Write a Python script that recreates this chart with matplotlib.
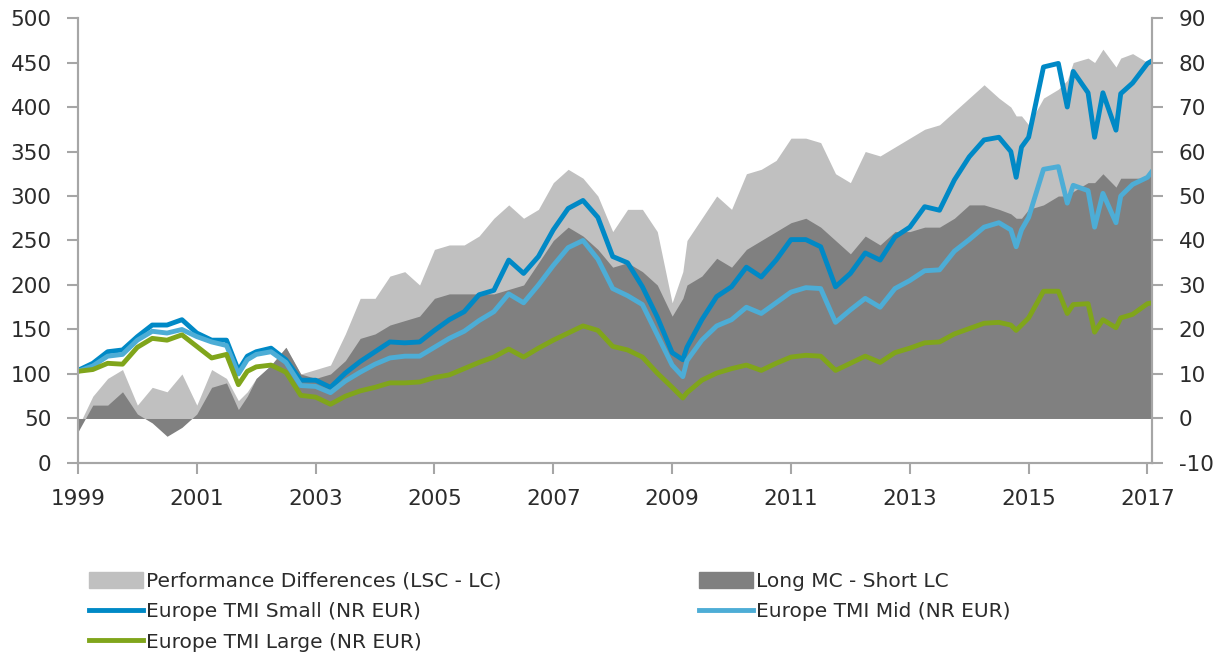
import matplotlib
matplotlib.use("Agg")
import matplotlib.pyplot as plt
from matplotlib.patches import Patch
from matplotlib.lines import Line2D

plt.rcParams['font.family'] = ['DejaVu Sans']
plt.rcParams['axes.unicode_minus'] = False

# reading points (decimal years), roughly quarterly plus sharp moves
years = [1999.0, 1999.25, 1999.5, 1999.75,
         2000.0, 2000.25, 2000.5, 2000.75,
         2001.0, 2001.25, 2001.5, 2001.7, 2001.85,
         2002.0, 2002.25, 2002.5, 2002.75,
         2003.0, 2003.25, 2003.5, 2003.75,
         2004.0, 2004.25, 2004.5, 2004.75,
         2005.0, 2005.25, 2005.5, 2005.75,
         2006.0, 2006.25, 2006.5, 2006.75,
         2007.0, 2007.25, 2007.5, 2007.75,
         2008.0, 2008.25, 2008.5, 2008.75,
         2009.0, 2009.18, 2009.25, 2009.5, 2009.75,
         2010.0, 2010.25, 2010.5, 2010.75,
         2011.0, 2011.25, 2011.5, 2011.75,
         2012.0, 2012.25, 2012.5, 2012.75,
         2013.0, 2013.25, 2013.5, 2013.75,
         2014.0, 2014.25, 2014.5, 2014.7, 2014.79, 2014.88,
         2015.0, 2015.25, 2015.5, 2015.65, 2015.75,
         2016.0, 2016.11, 2016.25, 2016.47, 2016.55, 2016.75,
         2017.0, 2017.08]
tick_years = list(range(1999, 2018, 2))

# left axis (index level)
small = [104, 112, 125, 127,
         142, 155, 155, 161,
         146, 138, 138, 104, 120,
         125, 129, 116, 93,
         93, 85, 101, 114,
         125, 136, 135, 136,
         149, 161, 170, 189,
         194, 228, 213, 232,
         262, 286, 295, 276,
         232, 225, 198, 164,
         124, 116, 130, 161, 187,
         198, 220, 209, 228,
         251, 251, 243, 198,
         213, 236, 228, 254,
         265, 288, 284, 318,
         344, 363, 366, 350, 321, 355,
         366, 445, 449, 400, 440,
         416, 366, 416, 374, 415, 427,
         449, 452]
mid = [103, 109, 120, 122,
       138, 148, 146, 150,
       142, 136, 132, 100, 116,
       122, 125, 113, 87,
       86, 79, 92, 102,
       111, 118, 120, 120,
       130, 140, 148, 160,
       170, 190, 180, 200,
       222, 242, 250, 229,
       196, 188, 178, 144,
       110, 97, 115, 138, 154,
       161, 175, 168, 180,
       192, 197, 196, 158,
       172, 185, 175, 196,
       205, 216, 217, 238,
       251, 265, 270, 262, 243, 262,
       276, 330, 333, 292, 312,
       306, 265, 303, 270, 300, 313,
       321, 328]
large = [103, 105, 112, 111,
         130, 140, 138, 144,
         131, 118, 122, 88, 103,
         108, 110, 102, 76,
         74, 66, 75, 81,
         85, 90, 90, 91,
         96, 99, 106, 113,
         119, 128, 119, 129,
         138, 146, 154, 149,
         131, 127, 119, 101,
         85, 73, 79, 93, 101,
         106, 110, 104, 112,
         119, 121, 120, 104,
         112, 120, 113, 124,
         129, 135, 136, 145,
         151, 157, 158, 155, 149, 155,
         163, 193, 193, 168, 178,
         179, 147, 161, 152, 163, 167,
         179, 180]

# right axis (performance differences)
perf_diff = [-2, 5, 9, 11,
             3, 7, 6, 10,
             3, 11, 9, 4, 6,
             9, 12, 16, 10,
             11, 12, 19, 27,
             27, 32, 33, 30,
             38, 39, 39, 41,
             45, 48, 45, 47,
             53, 56, 54, 50,
             42, 47, 47, 42,
             26, 33, 40, 45, 50,
             47, 55, 56, 58,
             63, 63, 62, 55,
             53, 60, 59, 61,
             63, 65, 66, 69,
             72, 75, 72, 70, 68, 68,
             66, 72, 74, 76, 80,
             81, 80, 83, 79, 81, 82,
             80, 80]
long_mc = [-3, 3, 3, 6,
           1, -1, -4, -2,
           1, 7, 8, 2, 5,
           9, 12, 16, 10,
           9, 10, 13, 18,
           19, 21, 22, 23,
           27, 28, 28, 28,
           28, 29, 30, 35,
           40, 43, 41, 38,
           34, 35, 33, 30,
           23, 27, 30, 32, 36,
           34, 38, 40, 42,
           44, 45, 43, 40,
           37, 41, 39, 42,
           42, 43, 43, 45,
           48, 48, 47, 46, 45, 45,
           47, 48, 50, 50, 51,
           53, 53, 55, 52, 54, 54,
           54, 56]

c_light = '#c0c0c0'
c_dark = '#808080'
c_small = '#0089c6'
c_mid = '#4dadd6'
c_large = '#80a51b'
c_spine = '#a6a6a6'
c_text = '#2b2b2b'

fig = plt.figure(figsize=(12.18, 6.58), dpi=100)
ax_area = fig.add_axes([0.064, 0.2964, 0.882, 0.6762])

ax_area.fill_between(years, 0, perf_diff, color=c_light, lw=0)
ax_area.fill_between(years, 0, long_mc, color=c_dark, lw=0)

ax_line = ax_area.twinx()
ax_line.plot(years, small, color=c_small, lw=3.5)
ax_line.plot(years, mid, color=c_mid, lw=3.5)
ax_line.plot(years, large, color=c_large, lw=3.5)

ax_area.set_ylim(-10, 90)
ax_area.set_yticks(range(-10, 91, 10))
ax_area.yaxis.tick_right()
ax_line.set_ylim(0, 500)
ax_line.set_yticks(range(0, 501, 50))
ax_line.yaxis.tick_left()

ax_area.set_xlim(1999.0, 2017.08)
ax_area.set_xticks(tick_years)
ax_area.set_xticklabels([str(y) for y in tick_years])

for a in (ax_area, ax_line):
    a.spines['top'].set_visible(False)
    for s in ('left', 'right', 'bottom'):
        a.spines[s].set_color(c_spine)
        a.spines[s].set_linewidth(1.5)
    a.tick_params(colors=c_spine, labelcolor=c_text, labelsize=15.5,
                  length=8, width=1.5, direction='out', pad=11)

handles = [
    Patch(color=c_light),
    Line2D([], [], color=c_small, lw=3.5),
    Line2D([], [], color=c_large, lw=3.5),
    Patch(color=c_dark),
    Line2D([], [], color=c_mid, lw=3.5),
]
labels = [
    'Performance Differences (LSC - LC)',
    'Europe TMI Small (NR EUR)',
    'Europe TMI Large (NR EUR)',
    'Long MC - Short LC',
    'Europe TMI Mid (NR EUR)',
]
leg = fig.legend(handles, labels, ncol=2, frameon=False, fontsize=14.5,
                 loc='upper left', bbox_to_anchor=(0.073, 0.131),
                 handlelength=2.7, handleheight=0.85, handletextpad=0.15,
                 labelspacing=0.57, columnspacing=9.8,
                 borderaxespad=0, borderpad=0)
for t in leg.get_texts():
    t.set_color(c_text)

fig.savefig('out.png', dpi=100)
